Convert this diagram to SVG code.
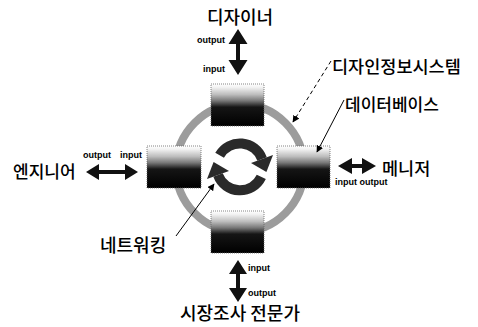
<svg xmlns="http://www.w3.org/2000/svg" width="478" height="327" viewBox="0 0 478 327">
<defs>
<linearGradient id="boxg" x1="0" y1="0" x2="0" y2="1">
<stop offset="0" stop-color="#ffffff"/>
<stop offset="0.08" stop-color="#f2f2f2"/>
<stop offset="0.25" stop-color="#bdbdbd"/>
<stop offset="0.4" stop-color="#777"/>
<stop offset="0.55" stop-color="#151515"/>
<stop offset="1" stop-color="#000"/>
</linearGradient>
<marker id="ah" viewBox="0 0 10 10" refX="9" refY="5" markerWidth="7" markerHeight="7" orient="auto" markerUnits="userSpaceOnUse">
<path d="M0,0 L10,5 L0,10 Z" fill="#000"/>
</marker>
<style>
.box{fill:url(#boxg);stroke:#666;stroke-width:0.8;stroke-dasharray:1 1}
.lbl{font-family:"Noto Sans CJK KR","Noto Sans",sans-serif;font-weight:500;fill:#000}
.io{font-family:"Liberation Sans",Arial,sans-serif;font-size:9px;font-weight:bold;fill:#000}
.dbl{fill:#111}
.cyc{fill:none;stroke:#2a2a2a;stroke-width:10}
.cyh{fill:#2a2a2a}
.lead{stroke:#000;stroke-width:1;fill:none}
</style>
</defs>
<rect width="478" height="327" fill="#fff"/>

<g id="system-ring">
<circle cx="240" cy="168" r="64" fill="none" stroke="#9c9c9c" stroke-width="8"/>
</g>

<g id="box-top"><rect class="box" x="211" y="84" width="53" height="42"/></g>
<g id="box-left"><rect class="box" x="147" y="146" width="54" height="42"/></g>
<g id="box-right"><rect class="box" x="277" y="146" width="53" height="42"/></g>
<g id="box-bottom"><rect class="box" x="211" y="211" width="53" height="42"/></g>

<g id="designer">
<text class="lbl" x="240" y="24" font-size="18" text-anchor="middle">디자이너</text>
<text class="io" x="197" y="43">output</text>
<text class="io" x="203" y="72">input</text>
</g>
<g id="engineer">
<text class="lbl" x="13" y="178" font-size="17">엔지니어</text>
<text class="io" x="83" y="158">output</text>
<text class="io" x="120" y="158">input</text>
</g>
<g id="manager">
<text class="lbl" x="382" y="175" font-size="17.5">메니저</text>
<text class="io" x="335" y="185">input output</text>
</g>
<g id="market-expert">
<text class="lbl" x="240" y="320" font-size="18" text-anchor="middle">시장조사 전문가</text>
<text class="io" x="248" y="271">input</text>
<text class="io" x="248" y="296">output</text>
</g>
<g id="label-dis">
<text class="lbl" x="332" y="73" font-size="17.5">디자인정보시스템</text>
</g>
<g id="label-db">
<text class="lbl" x="345" y="111" font-size="17">데이터베이스</text>
</g>
<g id="label-net">
<text class="lbl" x="100" y="252" font-size="18">네트워킹</text>
</g>

<g id="connectors">
<path class="dbl" d="M238,29 L247.5,44 L240,44 L240,60 L247.5,60 L238,75 L228.5,60 L236,60 L236,44 L228.5,44 Z"/>
<path class="dbl" d="M238,260 L247,274 L240,274 L240,288 L247,288 L238,302 L229,288 L236,288 L236,274 L229,274 Z"/>
<path class="dbl" d="M86,172 L99,164 L99,170 L125,170 L125,164 L138,172 L125,180 L125,174 L99,174 L99,180 Z"/>
<path class="dbl" d="M338,166 L352,158 L352,164 L362,164 L362,158 L376,166 L362,174 L362,168 L352,168 L352,174 Z"/>

<path class="cyc" d="M219.6,155.2 A23.5,23.5 0 0 1 262.1,159"/>
<polygon class="cyh" points="273,155 251,163 266.4,172"/>
<path class="cyc" d="M261.3,176.9 A23.5,23.5 0 0 1 218,175"/>
<polygon class="cyh" points="229,171 207,179 213.6,162"/>

<line class="lead" x1="331" y1="61" x2="293" y2="122" stroke-dasharray="4 3" marker-end="url(#ah)"/>
<line class="lead" x1="344" y1="100" x2="317" y2="152" stroke-width="0.8" marker-end="url(#ah)"/>
<line class="lead" x1="176" y1="236" x2="214" y2="184" marker-end="url(#ah)"/>
</g>
</svg>
